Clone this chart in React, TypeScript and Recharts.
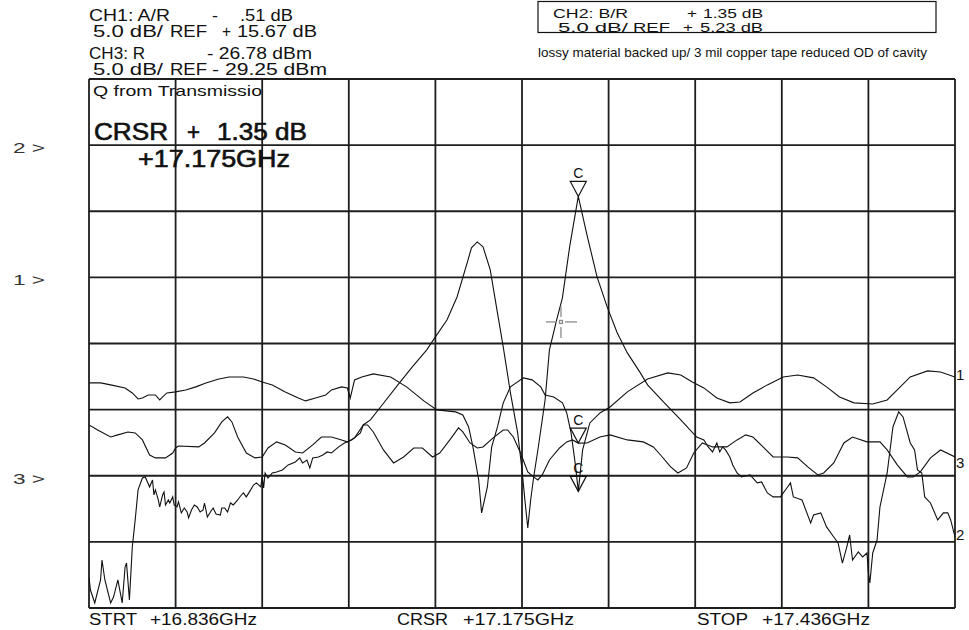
import React from "react";
import { LineChart, Line, XAxis, YAxis, ReferenceLine, ReferenceDot } from "recharts";

// Sweep: 16.836 GHz to 17.436 GHz, cursor at 17.175 GHz
const START_GHZ = 16.836;
const STOP_GHZ = 17.436;
const CURSOR_GHZ = 17.175;

// 10 horizontal divisions, 8 vertical divisions (5 dB/div on every channel)
const FREQ_GRID = [16.836, 16.896, 16.956, 17.016, 17.076, 17.136, 17.196, 17.256, 17.316, 17.376, 17.436];
const CH1_GRID = [-9.33, -4.33, 0.67, 5.67, 10.67, 15.67, 20.67, 25.67, 30.67];

// Each channel: REF level on its reference division, 5 dB/div
const CH1_DOMAIN: [number, number] = [-9.33, 30.67]; // REF +15.67 dB at div 5
const CH2_DOMAIN: [number, number] = [-29.77, 10.23]; // REF +5.23 dB at div 7
const CH3_DOMAIN: [number, number] = [-39.25, 0.75]; // REF -29.25 dBm at div 2

const CH1_CURSOR = -0.51;
const CH2_CURSOR = 1.35;
const CH3_CURSOR = -26.78;

// CH1: A/R (dB)
const CH1_TRACE: [number, number][] = [
  [16.836, 7.69], [16.844, 7.69], [16.851, 7.54], [16.861, 7.31], [16.866, 6.93], [16.870, 6.48],
  [16.873, 6.55], [16.877, 6.78], [16.882, 6.78], [16.885, 6.40], [16.887, 6.63], [16.890, 6.93],
  [16.896, 7.01], [16.903, 7.16], [16.910, 7.39], [16.917, 7.69], [16.926, 7.99], [16.933, 8.14],
  [16.943, 8.14], [16.950, 7.99], [16.956, 7.76], [16.963, 7.54], [16.972, 7.01], [16.981, 6.55],
  [16.986, 6.33], [16.993, 6.55], [17.000, 6.78], [17.004, 7.16], [17.011, 7.39], [17.015, 7.31],
  [17.017, 6.55], [17.020, 7.92], [17.025, 8.14], [17.033, 8.37], [17.045, 8.14], [17.056, 7.39],
  [17.068, 6.33], [17.077, 5.65], [17.090, 5.50], [17.095, 5.27], [17.099, 4.36], [17.102, 2.85],
  [17.106, 0.35], [17.108, -2.14], [17.112, -0.18], [17.115, 2.85], [17.119, 4.36], [17.123, 6.18],
  [17.128, 7.39], [17.137, 8.07], [17.143, 7.92], [17.149, 7.39], [17.152, 6.78], [17.158, 6.63],
  [17.164, 6.18], [17.167, 5.42], [17.170, 3.91], [17.173, 1.49], [17.175, -0.51], [17.178, 2.62],
  [17.183, 4.66], [17.190, 5.42], [17.197, 5.87], [17.209, 7.01], [17.223, 7.99], [17.237, 8.45],
  [17.246, 8.29], [17.254, 7.76], [17.262, 7.31], [17.271, 6.55], [17.280, 6.18], [17.287, 6.25],
  [17.296, 6.93], [17.306, 7.54], [17.317, 8.14], [17.327, 8.29], [17.338, 8.07], [17.347, 7.39],
  [17.356, 6.63], [17.366, 6.18], [17.379, 6.10], [17.389, 6.40], [17.396, 7.16], [17.405, 8.14],
  [17.417, 8.60], [17.426, 8.52], [17.436, 8.14],
];

// CH2: B/R (dB)
const CH2_TRACE: [number, number][] = [
  [16.836, -27.43], [16.837, -28.41], [16.840, -29.39], [16.844, -27.65], [16.845, -26.14], [16.847, -27.65],
  [16.851, -29.39], [16.853, -28.94], [16.856, -27.65], [16.859, -29.39], [16.861, -26.67], [16.862, -26.37],
  [16.864, -29.16], [16.866, -25.16], [16.868, -23.11], [16.870, -20.84], [16.873, -19.94], [16.875, -19.86],
  [16.878, -20.62], [16.880, -20.09], [16.881, -21.22], [16.882, -20.84], [16.884, -21.60], [16.885, -22.13],
  [16.887, -21.22], [16.888, -21.00], [16.889, -21.98], [16.891, -21.60], [16.892, -21.83], [16.894, -21.37],
  [16.895, -21.98], [16.897, -22.13], [16.898, -21.75], [16.900, -22.58], [16.902, -22.21], [16.904, -22.51],
  [16.905, -22.96], [16.907, -22.36], [16.909, -21.98], [16.911, -22.13], [16.913, -22.51], [16.915, -22.36],
  [16.916, -21.83], [16.918, -22.89], [16.921, -22.36], [16.922, -22.21], [16.924, -22.66], [16.927, -22.74],
  [16.928, -22.21], [16.930, -22.21], [16.932, -22.51], [16.934, -21.83], [16.936, -21.98], [16.939, -21.60],
  [16.941, -21.30], [16.943, -21.07], [16.945, -21.37], [16.948, -20.84], [16.950, -20.47], [16.952, -20.31],
  [16.955, -20.62], [16.956, -19.86], [16.957, -20.69],
  [16.958, -19.56], [16.960, -19.94], [16.963, -19.56], [16.966, -19.48], [16.970, -19.33], [16.974, -18.95],
  [16.979, -18.73], [16.982, -18.42], [16.984, -18.80], [16.987, -18.58], [16.989, -19.18], [16.991, -18.42],
  [16.995, -18.35], [16.998, -18.20], [17.001, -17.97], [17.004, -18.05], [17.009, -17.59], [17.013, -17.29],
  [17.018, -17.06], [17.024, -16.53], [17.026, -15.93], [17.031, -15.55], [17.038, -14.57], [17.050, -12.90],
  [17.060, -11.54], [17.070, -10.25], [17.076, -9.27], [17.084, -7.99], [17.091, -6.25], [17.098, -3.67],
  [17.101, -2.54], [17.105, -2.09], [17.109, -2.46], [17.114, -4.20], [17.119, -7.46], [17.123, -10.03],
  [17.128, -13.51], [17.133, -16.53], [17.136, -19.33], [17.138, -21.60], [17.140, -23.72], [17.142, -21.60],
  [17.144, -19.94], [17.147, -17.82], [17.152, -14.04], [17.155, -10.25], [17.160, -7.99], [17.164, -6.32],
  [17.169, -2.46], [17.175, 1.35], [17.181, -1.56], [17.188, -4.73], [17.195, -7.00], [17.202, -8.97],
  [17.209, -10.48], [17.218, -11.99], [17.223, -12.90], [17.234, -14.19], [17.246, -15.55], [17.257, -16.84],
  [17.262, -17.06], [17.265, -17.59], [17.268, -17.97], [17.271, -17.29], [17.273, -17.97], [17.275, -17.59],
  [17.277, -17.82], [17.280, -18.35], [17.282, -18.95],
  [17.285, -19.56], [17.288, -19.86], [17.294, -19.71], [17.299, -20.31], [17.302, -20.24], [17.306, -21.07],
  [17.310, -21.37], [17.315, -21.37], [17.320, -20.62], [17.322, -20.31], [17.324, -21.37], [17.330, -21.60],
  [17.336, -23.34], [17.338, -22.74], [17.343, -22.58], [17.347, -23.64], [17.352, -24.40], [17.355, -24.85],
  [17.358, -26.37], [17.361, -25.16], [17.363, -24.25], [17.365, -26.14], [17.369, -25.53], [17.372, -25.91],
  [17.375, -25.61], [17.376, -27.12], [17.377, -27.88], [17.379, -25.61], [17.382, -24.63], [17.384, -22.13],
  [17.389, -19.56], [17.393, -16.08], [17.397, -14.94], [17.400, -15.32], [17.405, -17.29], [17.408, -17.82],
  [17.410, -19.33], [17.413, -19.56], [17.415, -21.37], [17.419, -21.83], [17.424, -23.11], [17.428, -22.58],
  [17.431, -22.58], [17.433, -23.11], [17.436, -24.40],
];

// CH3: R (dBm)
const CH3_TRACE: [number, number][] = [
  [16.836, -25.41], [16.842, -25.79], [16.851, -26.32], [16.856, -26.16], [16.863, -25.94], [16.868, -26.01],
  [16.873, -26.54], [16.878, -27.68], [16.882, -27.90], [16.889, -27.90], [16.894, -27.53], [16.896, -27.15],
  [16.898, -27.00], [16.912, -27.07], [16.916, -26.77], [16.923, -26.01], [16.928, -25.18], [16.932, -24.80],
  [16.935, -25.18], [16.939, -26.32], [16.945, -27.53], [16.951, -27.90], [16.956, -27.83], [16.960, -27.15],
  [16.966, -26.69], [16.972, -26.92], [16.979, -27.45], [16.984, -27.53], [16.991, -26.92], [16.997, -26.32],
  [17.004, -26.32], [17.011, -26.54], [17.015, -26.69], [17.020, -26.39], [17.026, -25.41], [17.029, -25.41],
  [17.033, -25.94], [17.040, -27.30], [17.047, -28.28], [17.054, -27.83], [17.061, -27.15], [17.067, -27.15],
  [17.074, -27.83], [17.079, -27.53], [17.086, -26.54], [17.092, -25.63], [17.095, -25.94], [17.100, -26.77],
  [17.105, -27.15], [17.109, -27.07], [17.116, -26.39], [17.123, -25.79], [17.126, -25.79], [17.130, -26.32],
  [17.135, -27.53], [17.140, -28.96], [17.144, -29.34], [17.147, -29.57], [17.150, -29.19], [17.155, -28.06],
  [17.162, -27.15], [17.167, -26.69], [17.171, -26.54], [17.175, -26.78], [17.181, -26.77], [17.190, -26.32],
  [17.197, -26.16], [17.209, -26.54], [17.220, -26.69], [17.227, -27.07], [17.232, -27.68], [17.239, -28.58],
  [17.244, -29.04], [17.250, -28.66], [17.255, -27.53], [17.261, -26.77], [17.268, -27.07], [17.278, -27.07],
  [17.285, -26.54], [17.291, -26.16], [17.296, -26.32], [17.303, -27.07], [17.310, -27.83], [17.320, -27.83],
  [17.327, -27.90], [17.334, -28.58], [17.341, -29.19], [17.345, -29.04], [17.352, -28.28], [17.359, -26.77],
  [17.365, -26.32], [17.375, -26.69], [17.384, -26.69], [17.389, -27.30], [17.396, -28.43], [17.403, -29.34],
  [17.407, -29.34], [17.412, -28.96], [17.419, -27.90], [17.426, -27.30], [17.436, -27.83],
];

// Cursor crosshair position (CH2 scale)
const CROSSHAIR: [number, number] = [17.163, -8.14];

const toRows = (pts: [number, number][]) => pts.map(([f, db]) => ({ f, db }));
const ch1Rows = toRows(CH1_TRACE);
const ch2Rows = toRows(CH2_TRACE);
const ch3Rows = toRows(CH3_TRACE);

const FONT = "'Liberation Sans', Arial, Helvetica, sans-serif";
const INK = "#111";
const GRID_INK = "#1e1e1e";

const W = 969;
const H = 630;

const CursorMark = (props: any) => {
  const { cx, cy } = props;
  if (cx == null || cy == null) return null;
  return (
    <g>
      <path
        d={`M${cx - 8},${cy - 15} L${cx + 8},${cy - 15} L${cx},${cy} Z`}
        fill="none"
        stroke={INK}
        strokeWidth={1.2}
      />
      <text
        x={cx}
        y={cy - 18}
        textAnchor="middle"
        fontSize={14}
        fontFamily={FONT}
        fill={INK}
      >
        C
      </text>
    </g>
  );
};

const Crosshair = (props: any) => {
  const { cx, cy } = props;
  if (cx == null || cy == null) return null;
  const c = "#8a8a8a";
  return (
    <g stroke={c} strokeWidth={1.3} fill="none">
      <line x1={cx - 15} y1={cy} x2={cx - 4} y2={cy} />
      <line x1={cx + 4} y1={cy} x2={cx + 16} y2={cy} />
      <line x1={cx} y1={cy - 16} x2={cx} y2={cy - 5} />
      <line x1={cx} y1={cy + 5} x2={cx} y2={cy + 16} />
      <rect x={cx - 1.5} y={cy - 1.5} width={3} height={3} />
    </g>
  );
};

type TProps = {
  x: number;
  y: number;
  size: number;
  len?: number;
  fill?: string;
  heavy?: boolean;
  children: React.ReactNode;
};

const T = ({ x, y, size, len, fill = INK, heavy = false, children }: TProps) => (
  <text
    x={x}
    y={y}
    fontSize={size}
    fontFamily={FONT}
    fill={fill}
    stroke={heavy ? fill : undefined}
    strokeWidth={heavy ? 0.6 : undefined}
    textLength={len}
    lengthAdjust={len ? "spacingAndGlyphs" : undefined}
    style={{ whiteSpace: "pre" }}
  >
    {children}
  </text>
);

const Annotations = () => (
  <svg
    width={W}
    height={H}
    style={{ position: "absolute", left: 0, top: 0, pointerEvents: "none" }}
  >
    {/* channel 1 / channel 3 header */}
    <T x={89} y={21} size={16} len={81}>CH1: A/R</T>
    <T x={212} y={21} size={16} len={6}>-</T>
    <T x={240} y={21} size={16} len={53}>.51 dB</T>
    <T x={93} y={37} size={16} len={70}>5.0 dB/</T>
    <T x={170} y={37} size={16} len={37}>REF</T>
    <T x={222} y={37} size={16} len={9}>+</T>
    <T x={237} y={37} size={16} len={80}>15.67 dB</T>
    <T x={89} y={59} size={16} len={56}>CH3: R</T>
    <T x={207} y={59} size={16} len={105}>- 26.78 dBm</T>
    <T x={93} y={75} size={16} len={70}>5.0 dB/</T>
    <T x={170} y={75} size={16} len={37}>REF</T>
    <T x={212} y={75} size={16} len={115}>- 29.25 dBm</T>

    {/* channel 2 header box */}
    <rect x={538} y={1.5} width={398} height={31} fill="none" stroke={INK} strokeWidth={1.2} />
    <T x={553} y={18} size={12.5} len={75}>CH2: B/R</T>
    <T x={687} y={18} size={12.5} len={10}>+</T>
    <T x={703} y={18} size={12.5} len={60}>1.35 dB</T>
    <T x={558} y={32} size={12.5} len={70}>5.0 dB/</T>
    <T x={633} y={32} size={12.5} len={37}>REF</T>
    <T x={683} y={32} size={12.5} len={10}>+</T>
    <T x={700} y={32} size={12.5} len={63}>5.23 dB</T>
    <T x={538} y={57} size={13} len={389}>lossy material backed up/ 3 mil copper tape reduced OD of cavity</T>

    {/* reference position pointers */}
    <T x={13} y={153} size={15} len={32} fill="#333">2 &gt;</T>
    <T x={13} y={285} size={15} len={32} fill="#333">1 &gt;</T>
    <T x={13} y={484} size={15} len={32} fill="#333">3 &gt;</T>

    {/* in-graticule titles */}
    <T x={93} y={96} size={15} len={169}>Q from Transmissio</T>
    <T x={94} y={140} size={23} len={74} heavy>CRSR</T>
    <T x={187} y={140} size={23} len={13} heavy>+</T>
    <T x={217} y={140} size={23} len={90} heavy>1.35 dB</T>
    <T x={138} y={167} size={23} len={152} heavy>+17.175GHz</T>

    {/* trace labels at right edge */}
    <T x={956} y={380} size={15}>1</T>
    <T x={956} y={468} size={15}>3</T>
    <T x={956} y={540} size={15}>2</T>

    {/* sweep annotations */}
    <T x={89} y={625} size={16} len={48}>STRT</T>
    <T x={150} y={625} size={16} len={107}>+16.836GHz</T>
    <T x={397} y={625} size={16} len={51}>CRSR</T>
    <T x={463} y={625} size={16} len={111}>+17.175GHz</T>
    <T x={697} y={625} size={16} len={51}>STOP</T>
    <T x={762} y={625} size={16} len={108}>+17.436GHz</T>
  </svg>
);

export default function App() {
  return (
    <div
      style={{
        position: "absolute",
        left: 0,
        top: 0,
        width: W,
        height: H,
        background: "#fff",
        overflow: "hidden",
      }}
    >
      <LineChart
        width={W}
        height={H}
        margin={{ top: 79, right: 14, bottom: 22, left: 89 }}
      >
        <XAxis
          dataKey="f"
          type="number"
          domain={[START_GHZ, STOP_GHZ]}
          allowDataOverflow
          hide
        />
        <YAxis yAxisId="ch1" type="number" domain={CH1_DOMAIN} allowDataOverflow hide />
        <YAxis yAxisId="ch2" type="number" domain={CH2_DOMAIN} allowDataOverflow hide />
        <YAxis yAxisId="ch3" type="number" domain={CH3_DOMAIN} allowDataOverflow hide />

        {FREQ_GRID.map((f) => (
          <ReferenceLine
            key={`v${f}`}
            x={f}
            yAxisId="ch1"
            stroke={GRID_INK}
            strokeWidth={1.8}
            ifOverflow="visible"
          />
        ))}
        {CH1_GRID.map((v) => (
          <ReferenceLine
            key={`h${v}`}
            y={v}
            yAxisId="ch1"
            stroke={GRID_INK}
            strokeWidth={1.8}
            ifOverflow="visible"
          />
        ))}

        <Line
          data={ch1Rows}
          dataKey="db"
          yAxisId="ch1"
          type="linear"
          stroke={INK}
          strokeWidth={1.1}
          dot={false}
          isAnimationActive={false}
        />
        <Line
          data={ch2Rows}
          dataKey="db"
          yAxisId="ch2"
          type="linear"
          stroke={INK}
          strokeWidth={1.1}
          dot={false}
          isAnimationActive={false}
        />
        <Line
          data={ch3Rows}
          dataKey="db"
          yAxisId="ch3"
          type="linear"
          stroke={INK}
          strokeWidth={1.1}
          dot={false}
          isAnimationActive={false}
        />

        <ReferenceDot x={CURSOR_GHZ} y={CH2_CURSOR} yAxisId="ch2" r={0} shape={CursorMark} ifOverflow="visible" />
        <ReferenceDot x={CURSOR_GHZ} y={CH3_CURSOR} yAxisId="ch3" r={0} shape={CursorMark} ifOverflow="visible" />
        <ReferenceDot x={CURSOR_GHZ} y={CH1_CURSOR} yAxisId="ch1" r={0} shape={CursorMark} ifOverflow="visible" />
        <ReferenceDot x={CROSSHAIR[0]} y={CROSSHAIR[1]} yAxisId="ch2" r={0} shape={Crosshair} ifOverflow="visible" />
      </LineChart>
      <Annotations />
    </div>
  );
}
